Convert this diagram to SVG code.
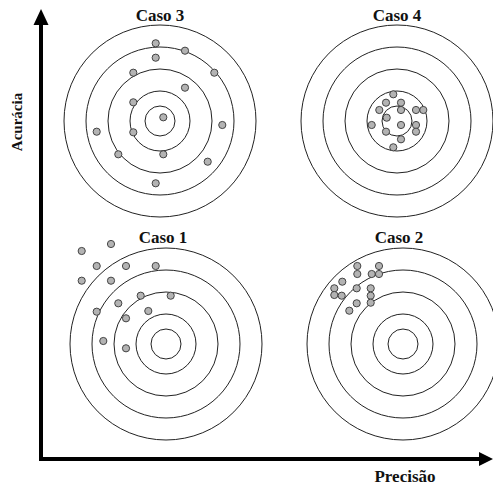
<svg xmlns="http://www.w3.org/2000/svg" width="493" height="487" viewBox="0 0 493 487">
<defs>
<style>
.ring{fill:none;stroke:#222;stroke-width:1}
.dot{fill:#b3b3b3;stroke:#444;stroke-width:1}
.title{font-family:"Liberation Serif","Times New Roman",serif;font-weight:bold;font-size:17px;fill:#111;text-anchor:middle}
.axis{stroke:#000;stroke-width:4;fill:none}
</style>
<g id="target">
<circle class="ring" r="15"/>
<circle class="ring" r="30"/>
<circle class="ring" r="52"/>
<circle class="ring" r="74"/>
<circle class="ring" r="96"/>
</g>
</defs>
<rect width="493" height="487" fill="#fff"/>
<g id="caso3">
<use href="#target" x="160" y="121"/>
<text class="title" x="160" y="21">Caso 3</text>
<g>
<circle class="dot" cx="155.7" cy="43.3" r="3.6"/>
<circle class="dot" cx="185" cy="50.7" r="3.6"/>
<circle class="dot" cx="155.7" cy="57.7" r="3.6"/>
<circle class="dot" cx="133.3" cy="72.7" r="3.6"/>
<circle class="dot" cx="214.3" cy="72.7" r="3.6"/>
<circle class="dot" cx="185" cy="87.7" r="3.6"/>
<circle class="dot" cx="133.3" cy="102.3" r="3.6"/>
<circle class="dot" cx="163.3" cy="117.3" r="3.6"/>
<circle class="dot" cx="96.7" cy="131.7" r="3.6"/>
<circle class="dot" cx="133.3" cy="132.3" r="3.6"/>
<circle class="dot" cx="222.3" cy="125" r="3.6"/>
<circle class="dot" cx="118.3" cy="154.3" r="3.6"/>
<circle class="dot" cx="163.3" cy="154.3" r="3.6"/>
<circle class="dot" cx="207.7" cy="161.7" r="3.6"/>
<circle class="dot" cx="155.7" cy="183.3" r="3.6"/>
</g>
</g>
<g id="caso4">
<use href="#target" x="397" y="121"/>
<text class="title" x="397" y="21">Caso 4</text>
<g>
<circle class="dot" cx="393.3" cy="94.3" r="3.6"/>
<circle class="dot" cx="386" cy="102.7" r="3.6"/>
<circle class="dot" cx="401" cy="102.7" r="3.6"/>
<circle class="dot" cx="401" cy="110" r="3.6"/>
<circle class="dot" cx="379.3" cy="110" r="3.6"/>
<circle class="dot" cx="416" cy="110" r="3.6"/>
<circle class="dot" cx="423.3" cy="110" r="3.6"/>
<circle class="dot" cx="386.7" cy="117.7" r="3.6"/>
<circle class="dot" cx="401" cy="125" r="3.6"/>
<circle class="dot" cx="371.7" cy="125" r="3.6"/>
<circle class="dot" cx="416" cy="125" r="3.6"/>
<circle class="dot" cx="416" cy="131.7" r="3.6"/>
<circle class="dot" cx="386" cy="131.7" r="3.6"/>
<circle class="dot" cx="401" cy="139.3" r="3.6"/>
<circle class="dot" cx="393.3" cy="147.3" r="3.6"/>
</g>
</g>
<g id="caso1">
<use href="#target" x="166" y="344"/>
<text class="title" x="163" y="243">Caso 1</text>
<g>
<circle class="dot" cx="111" cy="244" r="3.6"/>
<circle class="dot" cx="81.7" cy="251" r="3.6"/>
<circle class="dot" cx="96.7" cy="266" r="3.6"/>
<circle class="dot" cx="126" cy="266" r="3.6"/>
<circle class="dot" cx="155.7" cy="266" r="3.6"/>
<circle class="dot" cx="81.7" cy="280.7" r="3.6"/>
<circle class="dot" cx="111" cy="280.7" r="3.6"/>
<circle class="dot" cx="140.7" cy="295.7" r="3.6"/>
<circle class="dot" cx="170.7" cy="295.7" r="3.6"/>
<circle class="dot" cx="118.3" cy="303.3" r="3.6"/>
<circle class="dot" cx="96.7" cy="311.7" r="3.6"/>
<circle class="dot" cx="148.3" cy="311" r="3.6"/>
<circle class="dot" cx="126" cy="318.3" r="3.6"/>
<circle class="dot" cx="103.3" cy="341" r="3.6"/>
<circle class="dot" cx="126" cy="348.3" r="3.6"/>
</g>
</g>
<g id="caso2">
<use href="#target" x="403" y="344"/>
<text class="title" x="399" y="243">Caso 2</text>
<g>
<circle class="dot" cx="357.3" cy="266" r="3.6"/>
<circle class="dot" cx="357.3" cy="274" r="3.6"/>
<circle class="dot" cx="379" cy="266" r="3.6"/>
<circle class="dot" cx="379" cy="274" r="3.6"/>
<circle class="dot" cx="371.7" cy="274" r="3.6"/>
<circle class="dot" cx="342.3" cy="281.7" r="3.6"/>
<circle class="dot" cx="334.3" cy="288.3" r="3.6"/>
<circle class="dot" cx="334.3" cy="295" r="3.6"/>
<circle class="dot" cx="341.7" cy="295.7" r="3.6"/>
<circle class="dot" cx="356.7" cy="288.3" r="3.6"/>
<circle class="dot" cx="370.7" cy="288.3" r="3.6"/>
<circle class="dot" cx="370.7" cy="295.7" r="3.6"/>
<circle class="dot" cx="370.7" cy="302.7" r="3.6"/>
<circle class="dot" cx="356.7" cy="303.3" r="3.6"/>
<circle class="dot" cx="349.3" cy="310.7" r="3.6"/>
</g>
</g>
<g id="connectors">
<path class="axis" d="M41 24 V459 H480"/>
<polygon points="41,9 33.5,25 48.5,25" fill="#000"/>
<polygon points="493,459 479,452 479,466" fill="#000"/>
</g>
<g id="labels">
<text class="title" x="405" y="482">Precisão</text>
<text class="title" style="font-size:15px" transform="translate(22,122) rotate(-90)">Acurácia</text>
</g>
</svg>
